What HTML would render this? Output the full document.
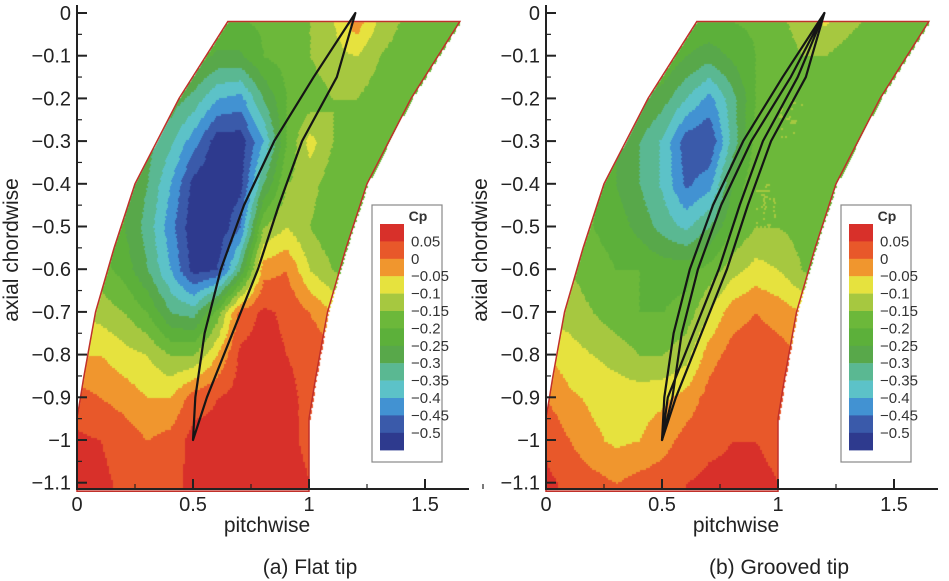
<!DOCTYPE html>
<html><head><meta charset="utf-8">
<style>
html,body{margin:0;padding:0;background:#fff;}
#wrap{position:relative;width:949px;height:581px;overflow:hidden;font-family:"Liberation Sans",sans-serif;}
canvas,svg{position:absolute;left:0;top:0;}
</style></head>
<body>
<div id="wrap">
<canvas id="cv" width="949" height="581"></canvas>
<svg id="sv" width="949" height="581"></svg>
</div>
<script>
// ---- data ----
const xTicks=[0,0.5,1,1.5];
const yTicks=[0,-0.1,-0.2,-0.3,-0.4,-0.5,-0.6,-0.7,-0.8,-0.9,-1,-1.1];
const gridX=[0,0.1,0.2,0.3,0.4,0.5,0.6,0.7,0.8,0.9,1.0,1.1,1.2,1.3,1.4,1.5,1.6,1.7];
const gridY=[0,-0.1,-0.2,-0.3,-0.4,-0.5,-0.6,-0.7,-0.8,-0.9,-1.0,-1.1];
const legendLabels=["0.05","0","−0.05","−0.1","−0.15","−0.2","−0.25","−0.3","−0.35","−0.4","−0.45","−0.5"];
const levels=[0.05,0,-0.05,-0.1,-0.15,-0.2,-0.25,-0.3,-0.35,-0.4,-0.45,-0.5];
const levelColors=["#d8302a","#e8582a","#f0962e","#e6e23e","#a6c840","#6cb83a","#5cb03a","#58a84a","#5ab892","#5cc2c8","#4292d2","#3a5aaa","#2e3a8e"];
const flatTip=[
[-0.19,-0.19,-0.19,-0.19,-0.19,-0.19,-0.19,-0.19,-0.19,-0.19,-0.15,-0.1,0.0,-0.1,-0.15,-0.19,-0.19,-0.19],
[-0.19,-0.19,-0.19,-0.19,-0.19,-0.22,-0.26,-0.26,-0.2,-0.18,-0.15,-0.12,-0.1,-0.15,-0.18,-0.19,-0.19,-0.19],
[-0.19,-0.19,-0.19,-0.22,-0.27,-0.32,-0.4,-0.42,-0.3,-0.2,-0.18,-0.15,-0.15,-0.18,-0.19,-0.19,-0.19,-0.19],
[-0.19,-0.19,-0.22,-0.28,-0.34,-0.43,-0.53,-0.53,-0.4,-0.2,-0.08,-0.15,-0.18,-0.19,-0.19,-0.19,-0.19,-0.19],
[-0.19,-0.2,-0.25,-0.3,-0.4,-0.52,-0.55,-0.52,-0.3,-0.15,-0.13,-0.18,-0.19,-0.19,-0.19,-0.19,-0.19,-0.19],
[-0.19,-0.2,-0.25,-0.32,-0.43,-0.54,-0.55,-0.45,-0.15,-0.1,-0.15,-0.19,-0.19,-0.19,-0.19,-0.19,-0.19,-0.19],
[-0.15,-0.18,-0.22,-0.3,-0.4,-0.52,-0.5,-0.3,-0.02,0.0,-0.1,-0.15,-0.19,-0.19,-0.19,-0.19,-0.19,-0.19],
[-0.1,-0.12,-0.15,-0.2,-0.3,-0.32,-0.18,0.02,0.06,0.04,0.0,-0.05,-0.1,-0.15,-0.19,-0.19,-0.19,-0.19],
[-0.05,-0.05,-0.08,-0.1,-0.15,-0.15,-0.05,0.06,0.07,0.05,0.04,0.02,0,0,0,0,0,0],
[0.02,0.0,-0.02,-0.05,-0.05,0.03,0.05,0.07,0.07,0.06,0.04,0.04,0.04,0.04,0.04,0.04,0.04,0.04],
[0.06,0.05,0.03,0.0,0.02,0.07,0.06,0.07,0.07,0.06,0.04,0.04,0.04,0.04,0.04,0.04,0.04,0.04],
[0.07,0.06,0.04,0.03,0.04,0.06,0.06,0.07,0.07,0.07,0.05,0.05,0.05,0.05,0.05,0.05,0.05,0.05]];
const groovedTip=[
[-0.19,-0.19,-0.19,-0.19,-0.19,-0.19,-0.19,-0.19,-0.19,-0.19,-0.16,-0.12,-0.08,-0.12,-0.16,-0.19,-0.19,-0.19],
[-0.19,-0.19,-0.19,-0.19,-0.19,-0.2,-0.25,-0.28,-0.24,-0.2,-0.18,-0.15,-0.15,-0.18,-0.19,-0.19,-0.19,-0.19],
[-0.19,-0.19,-0.19,-0.2,-0.24,-0.28,-0.35,-0.42,-0.32,-0.2,-0.15,-0.15,-0.18,-0.19,-0.19,-0.19,-0.19,-0.19],
[-0.19,-0.19,-0.2,-0.25,-0.3,-0.36,-0.48,-0.5,-0.33,-0.18,-0.15,-0.15,-0.18,-0.19,-0.19,-0.19,-0.19,-0.19],
[-0.19,-0.19,-0.2,-0.25,-0.3,-0.36,-0.46,-0.42,-0.25,-0.15,-0.15,-0.17,-0.19,-0.19,-0.19,-0.19,-0.19,-0.19],
[-0.19,-0.19,-0.2,-0.22,-0.27,-0.32,-0.36,-0.3,-0.2,-0.15,-0.15,-0.17,-0.19,-0.19,-0.19,-0.19,-0.19,-0.19],
[-0.15,-0.15,-0.18,-0.2,-0.2,-0.22,-0.22,-0.18,-0.12,-0.08,-0.1,-0.15,-0.19,-0.19,-0.19,-0.19,-0.19,-0.19],
[-0.12,-0.12,-0.15,-0.18,-0.2,-0.2,-0.18,-0.1,-0.02,0.0,-0.02,-0.05,-0.1,-0.15,-0.19,-0.19,-0.19,-0.19],
[-0.05,-0.08,-0.1,-0.12,-0.15,-0.15,-0.12,-0.02,0.02,0.03,0.02,0,0,0,0,0,0,0],
[0.0,-0.04,-0.06,-0.07,-0.07,-0.06,-0.03,0.02,0.04,0.04,0.03,0.03,0.03,0.03,0.03,0.03,0.03,0.03],
[0.04,0.0,-0.04,-0.06,-0.05,-0.02,0.02,0.04,0.05,0.05,0.04,0.04,0.04,0.04,0.04,0.04,0.04,0.04],
[0.06,0.04,0.02,0.0,0.02,0.03,0.05,0.06,0.06,0.06,0.05,0.05,0.05,0.05,0.05,0.05,0.05,0.05]];
const bandLeftY=[-0.02,-0.2,-0.4,-0.55,-0.7,-0.85,-0.95,-1.12];
const bandLeftX=[0.65,0.44,0.25,0.16,0.08,0.03,0.0,0.0];
const bladeY=[0,-0.15,-0.3,-0.45,-0.6,-0.75,-0.9,-1.0];
const suctionX=[1.2,1.02,0.85,0.72,0.62,0.55,0.51,0.5];
const pressureX=[1.2,1.12,0.97,0.87,0.78,0.67,0.56,0.5];

// ---- layout ----
const panels=[
 {x0:77,grid:flatTip,caption:"(a) Flat tip",double:false,name:"flat"},
 {x0:546,grid:groovedTip,caption:"(b) Grooved tip",double:true,name:"grooved"}];
const PXU=232, Y0=13, PYU=427, AXB=489, AXR=392;
const NS="http://www.w3.org/2000/svg";
const sv=document.getElementById('sv');
const ctx=document.getElementById('cv').getContext('2d');
function mk(tag,attrs,parent){const e=document.createElementNS(NS,tag);for(const k in attrs)e.setAttribute(k,attrs[k]);(parent||sv).appendChild(e);return e;}
function leftEdge(y){
 if(y>=bandLeftY[0])return bandLeftX[0];
 for(let i=0;i<bandLeftY.length-1;i++){if(y<=bandLeftY[i]&&y>=bandLeftY[i+1]){const t=(y-bandLeftY[i])/(bandLeftY[i+1]-bandLeftY[i]);return bandLeftX[i]+t*(bandLeftX[i+1]-bandLeftX[i]);}}
 return bandLeftX[bandLeftX.length-1];
}
function interp(g,x,y){
 let fx=x/0.1, fy=-y/0.1;
 fx=Math.max(0,Math.min(gridX.length-1.001,fx)); fy=Math.max(0,Math.min(gridY.length-1.001,fy));
 const i=Math.floor(fx),j=Math.floor(fy),tx=fx-i,ty=fy-j;
 return g[j][i]*(1-tx)*(1-ty)+g[j][i+1]*tx*(1-ty)+g[j+1][i]*(1-tx)*ty+g[j+1][i+1]*tx*ty;
}
function colorFor(v){for(let k=0;k<levels.length;k++){if(v>levels[k])return levelColors[k];}return levelColors[levelColors.length-1];}

panels.forEach(p=>{
 const sx=x=>p.x0+x*PXU, sy=y=>Y0-y*PYU;
 const yTop=-0.02;
 for(let py=Math.round(sy(yTop));py<AXB;py+=2){
  const y=-(py-Y0)/PYU;
  const xl=leftEdge(y), xr=xl+1.0;
  for(let px=Math.round(sx(xl));px<sx(xr);px+=2){
   const x=(px-p.x0)/PXU;
   ctx.fillStyle=colorFor(interp(p.grid,x,y));
   ctx.fillRect(px,py,2,2);
  }
 }
 const g=mk('g',{});
 
 
 let d='';
 bandLeftY.forEach((y,i)=>{d+=(i?'L':'M')+sx(bandLeftX[i])+' '+sy(y)+' ';});
 for(let i=bandLeftY.length-1;i>=0;i--)d+='L'+sx(bandLeftX[i]+1.0)+' '+sy(bandLeftY[i])+' ';
 d+='Z';
 const band=mk('path',{d:d,fill:'none',stroke:'#c0302a','stroke-width':1.5},g);
 
 
 const offs=p.double?[0,0.035]:[0];
 offs.forEach(o=>{
  let b='';
  bladeY.forEach((y,i)=>{const e=(i===0||i===bladeY.length-1)?0:o;b+=(i?'L':'M')+sx(suctionX[i]+e)+' '+sy(y)+' ';});
  for(let i=bladeY.length-1;i>=0;i--){const e=(i===0||i===bladeY.length-1)?0:o;b+='L'+sx(pressureX[i]-e)+' '+sy(bladeY[i])+' ';}
  b+='Z';
  const bl=mk('path',{d:b,fill:'none',stroke:'#151515','stroke-width':2.2,'stroke-linejoin':'round'},g);
  
  
 });
 const ax=mk('path',{d:`M${p.x0} 5 L${p.x0} ${AXB} L${p.x0+AXR} ${AXB}`,fill:'none',stroke:'#222','stroke-width':2},g);
 
 
 yTicks.forEach(v=>{
  mk('line',{x1:p.x0,x2:p.x0+10,y1:sy(v),y2:sy(v),stroke:'#222','stroke-width':2},g);
  if(v>-1.1)mk('line',{x1:p.x0,x2:p.x0+5,y1:sy(v-0.05),y2:sy(v-0.05),stroke:'#222','stroke-width':1.2},g);
  const t=mk('text',{x:p.x0-6,y:sy(v)+7,'text-anchor':'end','font-size':20,fill:'#222'},g);
  t.textContent=v===0?'0':'−'+String(-v);
  
  
 });
 xTicks.forEach(v=>{
  mk('line',{x1:sx(v),x2:sx(v),y1:AXB,y2:AXB-10,stroke:'#222','stroke-width':2},g);
  mk('line',{x1:sx(v+0.25),x2:sx(v+0.25),y1:AXB,y2:AXB-5,stroke:'#222','stroke-width':1.2},g);
  const t=mk('text',{x:sx(v),y:AXB+22,'text-anchor':'middle','font-size':20,fill:'#222'},g);
  t.textContent=String(v);
  
  
 });
 const xt=mk('text',{x:p.x0+190,y:532,'text-anchor':'middle','font-size':21,fill:'#222'},g);
 xt.textContent='pitchwise';
 
 
 const yt=mk('text',{x:0,y:0,'text-anchor':'middle','font-size':21,fill:'#222',transform:`translate(${p.x0-59},250) rotate(-90)`},g);
 yt.textContent='axial chordwise';
 
 
 const cap=mk('text',{x:p.x0+233,y:574,'text-anchor':'middle','font-size':21,fill:'#222'},g);
 cap.textContent=p.caption;
 
 
 const lx=p.x0+295, ly=205;
 const lg=mk('g',{},g);
 
 
 mk('rect',{x:lx,y:ly,width:70,height:257,fill:'#fff',stroke:'#888','stroke-width':1.2},lg);
 const ct=mk('text',{x:lx+46,y:ly+16,'text-anchor':'middle','font-size':14,'font-weight':'bold',fill:'#333'},lg);
 ct.textContent='Cp';
 levelColors.forEach((c,k)=>{
  mk('rect',{x:lx+8,y:ly+13+k*17.4+6,width:24,height:17.6,fill:c},lg);
 });
 legendLabels.forEach((s,k)=>{
  const t=mk('text',{x:lx+39,y:ly+19+(k+1)*17.4+5,'font-size':15,fill:'#333'},lg);
  t.textContent=s;
  
  
 });
});
</script>
</body></html>
